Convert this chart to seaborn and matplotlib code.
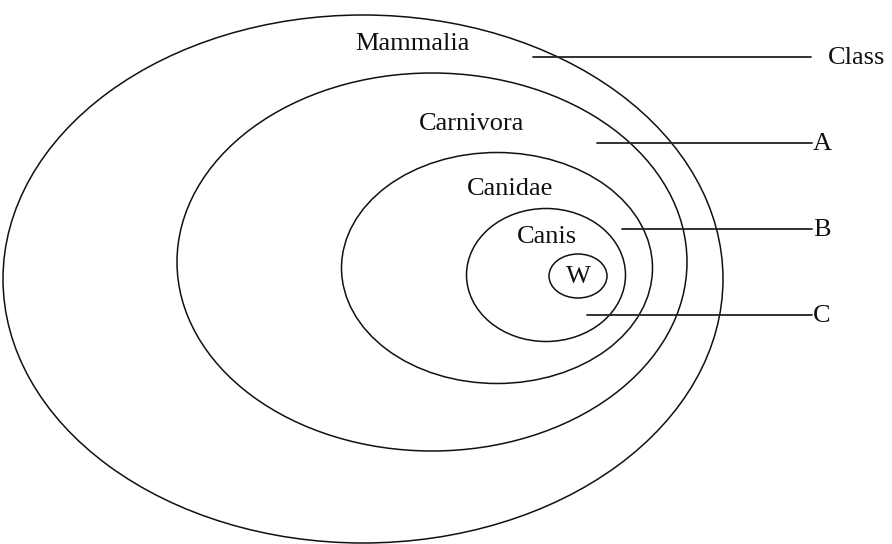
import matplotlib
matplotlib.use("Agg")
import matplotlib.pyplot as plt
from matplotlib.patches import Ellipse
import seaborn as sns

sns.set_theme(style="white")
plt.rcParams['font.family'] = ['Liberation Serif', 'DejaVu Serif']

# Taxon ellipses (pixel space): name, centre x, centre y, width, height
taxa = ["Mammalia", "Carnivora", "Canidae", "Canis", "W"]
cx = [363, 432, 497, 546, 578]
cy = [279, 262, 268, 275, 276]
widths = [720, 510, 311, 159, 58]
heights = [528, 378, 231, 133, 44]
label_x = [412, 472, 510, 547, 578]
label_y = [44, 124, 189, 237, 277]

# Rank pointer lines
ranks = ["Class", "A", "B", "C"]
line_start = [533, 597, 622, 587]
line_end = [811, 812, 812, 812]
line_y = [57, 143, 229, 315]
rank_x = [828, 813, 813, 813]

fig = plt.figure(figsize=(8.92, 5.44), dpi=100)
ax = fig.add_axes([0, 0, 1, 1])
ax.set_xlim(0, 892)
ax.set_ylim(544, 0)
ax.axis("off")

for i, name in enumerate(taxa):
    ax.add_patch(Ellipse((cx[i], cy[i]), widths[i], heights[i], fill=False,
                         edgecolor="#111111", lw=1.1))
    ax.text(label_x[i], label_y[i], name, ha="center", va="center",
            fontsize=19, color="#111111")

for i, r in enumerate(ranks):
    sns.lineplot(x=[line_start[i], line_end[i]], y=[line_y[i], line_y[i]], ax=ax,
                 color="#222222", lw=1.3, legend=False)
    ax.text(rank_x[i], line_y[i] + 1, r, ha="left", va="center",
            fontsize=19, color="#111111")

fig.savefig("out.png", dpi=100)
